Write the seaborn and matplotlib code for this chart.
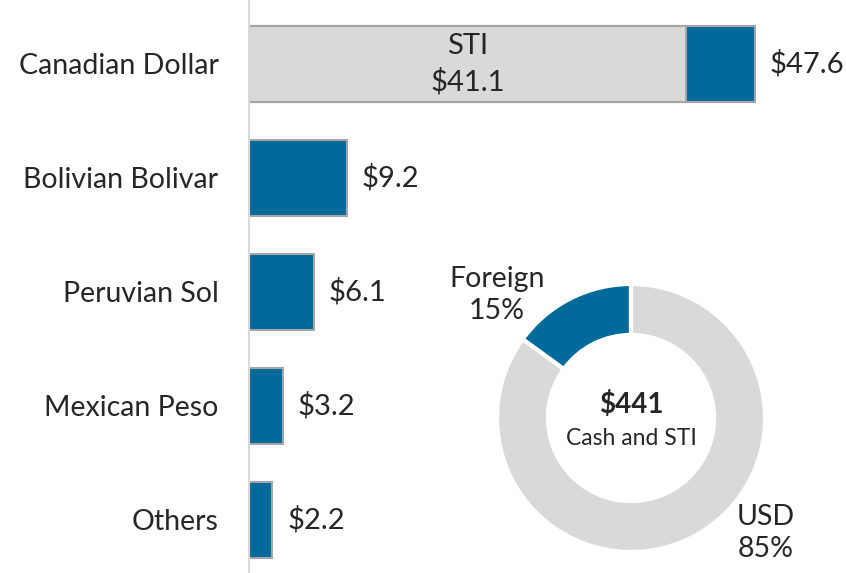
import numpy as np
import pandas as pd
import matplotlib
matplotlib.use("Agg")
import matplotlib.pyplot as plt
import seaborn as sb

# data
currencies = ["Canadian Dollar", "Bolivian Bolivar", "Peruvian Sol", "Mexican Peso", "Others"]
totals = [47.6, 9.2, 6.1, 3.2, 2.2]
sti = [41.1, 0, 0, 0, 0]
donut_labels = ["Foreign", "USD"]
donut_share = [15, 85]
cash_total = 441

BLUE = "#006A9A"
GREY = "#D9D9D9"
EDGE = "#A6A6A6"

sb.set_style("white")
plt.rcParams["font.family"] = ["Lato", "DejaVu Sans"]

fig = plt.figure(figsize=(8.46, 5.73), dpi=100)
ax = fig.add_axes([249 / 846, 0, 1 - 249 / 846, 1])

df = pd.DataFrame({"currency": currencies, "total": totals, "sti": sti})

sb.barplot(data=df, x="total", y="currency", color=BLUE, width=0.667,
           edgecolor=EDGE, linewidth=1.5, saturation=1, ax=ax)
# STI part of the canadian bar
ax.barh(np.arange(len(df)), df["sti"], height=0.667, color=GREY,
        edgecolor=EDGE, linewidth=1.5)

for i in range(len(df)):
    ax.text(df["total"].iloc[i] + 1.4, i, "$%.1f" % df["total"].iloc[i],
            va="center", ha="left", fontsize=21)
    if df["sti"].iloc[i] > 0:
        ax.text(df["sti"].iloc[i] / 2, i, "STI\n$%.1f" % df["sti"].iloc[i],
                va="center", ha="center", fontsize=21, linespacing=1.4)

ax.set_xlim(0, 56.2)
ax.set_ylim(4.465, -0.561)
ax.set_xlabel("")
ax.set_ylabel("")
ax.set_xticks([])
ax.tick_params(axis="y", length=0, pad=22, labelsize=20.5)
for s in ["top", "right", "bottom"]:
    ax.spines[s].set_visible(False)
ax.spines["left"].set_color(GREY)
ax.spines["left"].set_linewidth(1.5)

# donut
ax2 = fig.add_axes([497 / 846, 21 / 573, 268 / 846, 268 / 573])
ax2.pie(donut_share, colors=[BLUE, GREY], startangle=90, counterclock=True,
        radius=1, wedgeprops={"width": 0.38, "edgecolor": "white", "linewidth": 3})
ax2.set_xlim(-1, 1)
ax2.set_ylim(-1, 1)
ax2.set_aspect("equal")
ax2.axis("off")
ax2.text(0, 0.1, "$%d" % cash_total, ha="center", va="center",
         fontsize=20, fontweight="bold")
ax2.text(0, -0.15, "Cash and STI", ha="center", va="center", fontsize=16.5)

fig.text(497 / 846, 1 - 295 / 573, "%s\n%d%%" % (donut_labels[0], donut_share[0]),
         ha="center", va="center", fontsize=20.5, linespacing=1.3)
fig.text(766 / 846, 1 - 533 / 573, "%s\n%d%%" % (donut_labels[1], donut_share[1]),
         ha="center", va="center", fontsize=20.5, linespacing=1.3)

fig.savefig("out.png", dpi=100)
